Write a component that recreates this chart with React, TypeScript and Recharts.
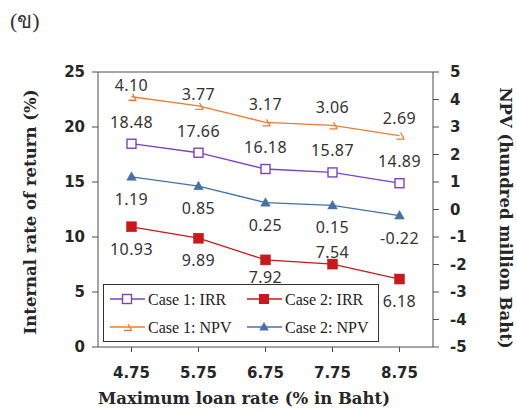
import React from 'react';
import { LineChart, Line, XAxis, YAxis, ReferenceLine } from 'recharts';

const categories = ['4.75', '5.75', '6.75', '7.75', '8.75'];
const case1Irr = [18.48, 17.66, 16.18, 15.87, 14.89];
const case2Irr = [10.93, 9.89, 7.92, 7.54, 6.18];
const case1Npv = [4.1, 3.77, 3.17, 3.06, 2.69];
const case2Npv = [1.19, 0.85, 0.25, 0.15, -0.22];
const irrTicks = [0, 5, 10, 15, 20, 25];
const npvTicks = [-5, -4, -3, -2, -1, 0, 1, 2, 3, 4, 5];

const data = categories.map((c, i) => ({
  rate: c,
  c1irr: case1Irr[i],
  c2irr: case2Irr[i],
  c1npv: case1Npv[i],
  c2npv: case2Npv[i],
}));

const AX = '#4d4d4d';
const PURPLE = '#8040c0';
const RED = '#c81a1a';
const ORANGE = '#ed7d31';
const BLUE = '#4570a8';
const LABEL_FONT = 'Noto Sans, DejaVu Sans, sans-serif';
const TICK_FONT = 'DejaVu Sans, Verdana, sans-serif';
const SERIF = 'Liberation Serif, DejaVu Serif, serif';

const OpenSquare = (p: any) => {
  if (p.cx == null) return null;
  return <rect x={p.cx - 4.5} y={p.cy - 4.5} width={9} height={9} fill="#fff" stroke={PURPLE} strokeWidth={1.4} />;
};
const FilledSquare = (p: any) => {
  if (p.cx == null) return null;
  return <rect x={p.cx - 5} y={p.cy - 5} width={10} height={10} fill={RED} stroke={RED} strokeWidth={0.5} />;
};
const Triangle = (p: any) => {
  if (p.cx == null) return null;
  const { cx, cy } = p;
  return <path d={`M${cx},${cy - 5} L${cx + 4.8},${cy + 3.5} L${cx - 4.8},${cy + 3.5} Z`} fill={BLUE} stroke={BLUE} strokeWidth={0.5} />;
};
const DashMark = (p: any) => {
  if (p.cx == null) return null;
  const { cx, cy } = p;
  return (
    <path
      d={`M${cx - 3},${cy + 3.5} L${cx + 5},${cy + 3.5} M${cx + 1},${cy - 3} L${cx + 4.5},${cy + 3}`}
      fill="none"
      stroke={ORANGE}
      strokeWidth={1.3}
    />
  );
};

const makeLabel = (offsets: (i: number) => number) => (p: any) => {
  if (p.x == null || p.value == null) return null;
  return (
    <text
      key={`l-${p.index}`}
      x={p.x}
      y={p.y + offsets(p.index)}
      textAnchor="middle"
      dominantBaseline="central"
      fontFamily={LABEL_FONT}
      fontSize={16}
      letterSpacing={0.4}
      fill="#333"
    >
      {Number(p.value).toFixed(2)}
    </text>
  );
};

const c1IrrLabel = makeLabel(() => -22);
const c1NpvLabel = makeLabel((i) => (i < 2 ? -12 : -18));
const c2NpvLabel = makeLabel(() => 22);
const c2IrrLabel = makeLabel((i) => (i === 3 ? -12 : i === 2 ? 17 : 22));

const LegendItem = ({ x, y, color, label, marker }: any) => {
  const mx = x + 17;
  let m: any = null;
  if (marker === 'open') m = <rect x={mx - 4.5} y={y - 4.5} width={9} height={9} fill="#fff" stroke={color} strokeWidth={1.4} />;
  if (marker === 'fill') m = <rect x={mx - 5} y={y - 5} width={10} height={10} fill={color} />;
  if (marker === 'tri') m = <path d={`M${mx},${y - 5} L${mx + 4.8},${y + 3.5} L${mx - 4.8},${y + 3.5} Z`} fill={color} />;
  if (marker === 'dash')
    m = (
      <path
        d={`M${mx - 3},${y + 3.5} L${mx + 5},${y + 3.5} M${mx + 1},${y - 3} L${mx + 4.5},${y + 3}`}
        fill="none"
        stroke={color}
        strokeWidth={1.3}
      />
    );
  return (
    <g>
      <line x1={x} y1={y} x2={x + 35} y2={y} stroke={color} strokeWidth={1.3} />
      {m}
      <text x={x + 38} y={y} dominantBaseline="central" fontFamily={SERIF} fontSize={16} fill="#222">
        {label}
      </text>
    </g>
  );
};

export default function App() {
  return (
    <div style={{ position: 'absolute', left: 0, top: 0, width: 517, height: 410, background: '#fff' }}>
      <LineChart width={517} height={410} data={data} margin={{ top: 72, right: 0, bottom: 0, left: 0 }}>
        <XAxis
          dataKey="rate"
          height={63}
          interval={0}
          padding={{ left: 33.5, right: 33.5 }}
          tickSize={5}
          tickMargin={15}
          axisLine={{ stroke: AX }}
          tickLine={{ stroke: AX }}
          tick={{ fill: '#262626', fontSize: 15, fontWeight: 'bold', fontFamily: TICK_FONT }}
        />
        <YAxis
          yAxisId="irr"
          width={98}
          domain={[0, 25]}
          ticks={irrTicks}
          interval={0}
          tickSize={6}
          tickMargin={7}
          axisLine={{ stroke: AX }}
          tickLine={{ stroke: AX }}
          tick={{ fill: '#262626', fontSize: 15, fontWeight: 'bold', fontFamily: TICK_FONT }}
        />
        <YAxis
          yAxisId="npv"
          orientation="right"
          width={84}
          domain={[-5, 5]}
          ticks={npvTicks}
          interval={0}
          tickSize={6}
          tickMargin={11}
          axisLine={{ stroke: AX }}
          tickLine={{ stroke: AX }}
          tick={{ fill: '#262626', fontSize: 15, fontWeight: 'bold', fontFamily: TICK_FONT, textAnchor: 'start' }}
        />
        <ReferenceLine yAxisId="irr" y={25} stroke={AX} />
        <Line yAxisId="irr" dataKey="c1irr" stroke={PURPLE} strokeWidth={1.3} dot={OpenSquare} label={c1IrrLabel} isAnimationActive={false} />
        <Line yAxisId="irr" dataKey="c2irr" stroke={RED} strokeWidth={1.3} dot={FilledSquare} label={c2IrrLabel} isAnimationActive={false} />
        <Line yAxisId="npv" dataKey="c1npv" stroke={ORANGE} strokeWidth={1.3} dot={DashMark} label={c1NpvLabel} isAnimationActive={false} />
        <Line yAxisId="npv" dataKey="c2npv" stroke={BLUE} strokeWidth={1.3} dot={Triangle} label={c2NpvLabel} isAnimationActive={false} />
      </LineChart>
      <svg width={517} height={410} style={{ position: 'absolute', left: 0, top: 0, pointerEvents: 'none' }}>
        <text x={10} y={20} dominantBaseline="central" fontFamily={SERIF} fontSize={22} fill="#333">
          (ข)
        </text>
        <text
          transform="translate(30,212) rotate(-90)"
          textAnchor="middle"
          dominantBaseline="central"
          fontFamily="DejaVu Serif, serif"
          fontWeight="bold"
          fontSize={16.5}
          fill="#262626"
        >
          Internal rate of return (%)
        </text>
        <text
          transform="translate(505,218) rotate(90)"
          textAnchor="middle"
          dominantBaseline="central"
          fontFamily="DejaVu Serif, serif"
          fontWeight="bold"
          fontSize={16.5}
          fill="#262626"
        >
          NPV (hundred million Baht)
        </text>
        <text
          x={244}
          y={398}
          textAnchor="middle"
          dominantBaseline="central"
          fontFamily="DejaVu Serif, serif"
          fontWeight="bold"
          fontSize={16.5}
          fill="#262626"
        >
          Maximum loan rate (% in Baht)
        </text>
        <rect x={103.5} y={284.5} width={275} height={57} fill="#fff" stroke="#333" strokeWidth={1} />
        <LegendItem x={110} y={299} color={PURPLE} label="Case 1: IRR" marker="open" />
        <LegendItem x={247} y={299} color={RED} label="Case 2: IRR" marker="fill" />
        <LegendItem x={110} y={327} color={ORANGE} label="Case 1: NPV" marker="dash" />
        <LegendItem x={247} y={327} color={BLUE} label="Case 2: NPV" marker="tri" />
      </svg>
    </div>
  );
}
